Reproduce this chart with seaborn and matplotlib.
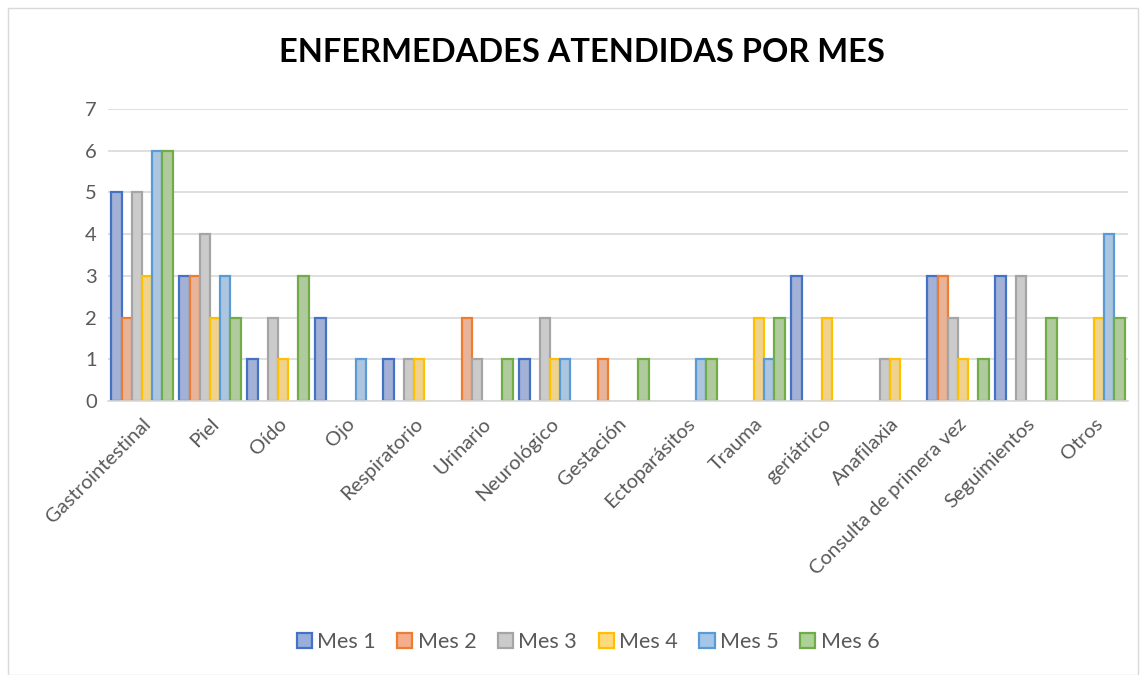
import matplotlib
matplotlib.use("Agg")
import matplotlib.pyplot as plt
import seaborn as sns
import pandas as pd
from matplotlib.patches import Rectangle, Patch

categories = ["Gastrointestinal", "Piel", "Oído", "Ojo", "Respiratorio", "Urinario",
              "Neurológico", "Gestación", "Ectoparásitos", "Trauma", "geriátrico",
              "Anafilaxia", "Consulta de primera vez", "Seguimientos", "Otros"]
mes1 = [5, 3, 1, 2, 1, 0, 1, 0, 0, 0, 3, 0, 3, 3, 0]
mes2 = [2, 3, 0, 0, 0, 2, 0, 1, 0, 0, 0, 0, 3, 0, 0]
mes3 = [5, 4, 2, 0, 1, 1, 2, 0, 0, 0, 0, 1, 2, 3, 0]
mes4 = [3, 2, 1, 0, 1, 0, 1, 0, 0, 2, 2, 1, 1, 0, 2]
mes5 = [6, 3, 0, 1, 0, 0, 1, 0, 1, 1, 0, 0, 0, 0, 4]
mes6 = [6, 2, 3, 0, 0, 1, 0, 1, 1, 2, 0, 0, 1, 2, 2]
series_names = ["Mes 1", "Mes 2", "Mes 3", "Mes 4", "Mes 5", "Mes 6"]
title = "ENFERMEDADES ATENDIDAS POR MES"

fills = ["#9AAEDD", "#F5AE8C", "#CBCBCB", "#FFD97E", "#A4C6E8", "#ADD297"]
edges = ["#4472C4", "#ED7D31", "#A5A5A5", "#FFC000", "#5B9BD5", "#70AD47"]

rows = []
for name, vals in zip(series_names, [mes1, mes2, mes3, mes4, mes5, mes6]):
    for c, v in zip(categories, vals):
        rows.append({"cat": c, "serie": name, "val": v})
df = pd.DataFrame(rows)

sns.set_style("white")
plt.rcParams['font.family'] = ['Lato', 'DejaVu Sans']

fig = plt.figure(figsize=(11.46, 6.75), dpi=100)
ax = fig.add_axes([108/1146, 1-401/675, (1128-108)/1146, (401-109)/675])

sns.barplot(data=df, x="cat", y="val", hue="serie", order=categories,
            hue_order=series_names, palette=fills, width=0.9, ax=ax,
            errorbar=None, legend=False)

for cont, ec in zip(ax.containers, edges):
    for p in cont:
        p.set_edgecolor(ec)
        p.set_linewidth(1.6)
        if p.get_height() == 0:
            p.set_visible(False)

ax.set_ylim(0, 7)
ax.set_xlim(-0.5, len(categories) - 0.5)
ax.set_yticks(range(0, 8))
ax.yaxis.grid(True, color="#D9D9D9", linewidth=1.2)
ax.set_axisbelow(True)
for s in ["top", "right", "left"]:
    ax.spines[s].set_visible(False)
ax.spines["bottom"].set_color("#D9D9D9")
ax.spines["bottom"].set_linewidth(1.2)
ax.tick_params(axis="both", length=0, labelsize=14.5, colors="#595959", pad=8)
ax.set_xlabel("")
ax.set_ylabel("")
ax.set_xticks(range(len(categories)))
ax.set_xticklabels(categories, rotation=45, ha="right", rotation_mode="anchor",
                   fontsize=14.5, color="#595959")
ax.tick_params(axis="x", pad=10)

fig.text(582/1146, 1-53/675, title, ha="center", va="center", fontsize=23.5,
         fontweight="bold", color="#000000")

handles = [Patch(facecolor=f, edgecolor=e, linewidth=1.6) for f, e in zip(fills, edges)]
fig.legend(handles, series_names, loc="center", bbox_to_anchor=(588/1146, 1-642/675),
           ncol=6, frameon=False, fontsize=15.5, labelcolor="#595959",
           handlelength=0.7, handleheight=0.7, handletextpad=0.25, columnspacing=1.0)

fig.patches.append(Rectangle((8/1146, 0), 1-16/1146, 1-8/675, transform=fig.transFigure,
                             fill=False, edgecolor="#D9D9D9", linewidth=1))

fig.savefig("out.png", dpi=100)
